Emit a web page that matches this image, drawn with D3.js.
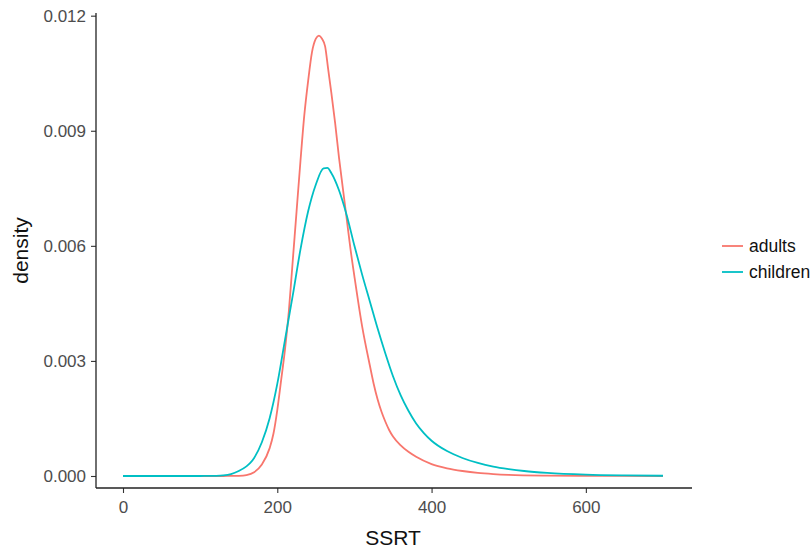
<!DOCTYPE html>
<html>
<head>
<meta charset="utf-8">
<script src="https://cdn.jsdelivr.net/npm/d3@7"></script>
<style>
  body { margin: 0; background: #fff; }
  text { font-family: "Liberation Sans", Arial, sans-serif; }
</style>
</head>
<body>
<div id="chart"></div>
<script>
// chart size and panel position
const WIDTH = 812;
const HEIGHT = 551;
const PANEL = { left: 96, right: 690, top: 13, bottom: 488 };

// SSRT grid and densities
const adultsX = [0, 100, 130, 140, 150, 160, 170, 180, 190, 195, 200, 205, 210, 215, 220, 225, 230, 235, 240, 245, 250, 254, 258, 262, 266, 270, 275, 280, 285, 290, 295, 300, 310, 320, 325, 330, 335, 340, 345, 350, 360, 370, 380, 400, 420, 440, 460, 480, 500, 550, 600, 700];
const adultsY = [0, 0, 0.0000003, 0.000001, 0.000005, 0.000025, 0.0001, 0.0003, 0.00072, 0.0011, 0.00172, 0.0025, 0.0033, 0.0043, 0.0056, 0.0069, 0.0082, 0.0094, 0.0103, 0.01105, 0.0114, 0.01148, 0.0114, 0.0112, 0.0106, 0.0100, 0.0092, 0.0083, 0.0075, 0.0067, 0.0059, 0.0052, 0.0039, 0.00288, 0.0024, 0.002, 0.00168, 0.00142, 0.0012, 0.00103, 0.0008, 0.00063, 0.0005, 0.00031, 0.0002, 0.00013, 0.00008, 0.00005, 0.00003, 0.00001, 0.000004, 0];

const childrenX = [0, 100, 110, 120, 130, 140, 150, 160, 165, 170, 180, 190, 200, 210, 220, 230, 240, 250, 260, 265, 270, 280, 290, 300, 310, 320, 330, 340, 350, 360, 370, 380, 390, 400, 420, 440, 460, 480, 500, 520, 550, 600, 650, 700];
const childrenY = [0, 0.0000003, 0.000001, 0.000004, 0.000015, 0.00005, 0.00013, 0.00025, 0.00034, 0.00047, 0.00088, 0.0015, 0.0024, 0.00355, 0.0047, 0.0059, 0.0069, 0.0076, 0.00802, 0.00803, 0.0079, 0.00745, 0.0068, 0.0060, 0.00525, 0.00455, 0.00385, 0.0032, 0.0026, 0.0021, 0.0017, 0.00137, 0.00112, 0.00092, 0.00065, 0.00047, 0.00034, 0.000245, 0.00018, 0.00013, 0.00008, 0.000035, 0.000015, 0.000006];

const groups = ['adults', 'children'];
const colors = ['#F8766D', '#00BFC4'];

const xTicks = [0, 200, 400, 600];
const yTicks = [0, 0.003, 0.006, 0.009, 0.012];

const series = [
  adultsX.map((x, i) => ({ x: x, y: adultsY[i] })),
  childrenX.map((x, i) => ({ x: x, y: childrenY[i] }))
];

const svg = d3.select('#chart')
  .append('svg')
  .attr('width', WIDTH)
  .attr('height', HEIGHT);

const xScale = d3.scaleLinear()
  .domain([-35, 735])
  .range([PANEL.left, PANEL.right]);

const yScale = d3.scaleLinear()
  .domain([-0.000313, 0.01207])
  .range([PANEL.bottom, PANEL.top]);

const line = d3.line()
  .x(d => xScale(d.x))
  .y(d => yScale(d.y))
  .curve(d3.curveMonotoneX);

svg.selectAll('.density')
  .data(series)
  .join('path')
  .attr('class', 'density')
  .attr('d', line)
  .attr('fill', 'none')
  .attr('stroke', (d, i) => colors[i])
  .attr('stroke-width', 1.8);

// axes
const xAxis = d3.axisBottom(xScale)
  .tickValues(xTicks)
  .tickSize(5)
  .tickPadding(8)
  .tickFormat(d3.format('d'));

const yAxis = d3.axisLeft(yScale)
  .tickValues(yTicks)
  .tickSize(5)
  .tickPadding(5)
  .tickFormat(d3.format('.3f'));

const gx = svg.append('g')
  .attr('transform', `translate(0, ${PANEL.bottom})`)
  .call(xAxis);

const gy = svg.append('g')
  .attr('transform', `translate(${PANEL.left}, 0)`)
  .call(yAxis);

[gx, gy].forEach(g => {
  g.select('.domain').remove();
  g.selectAll('.tick line').attr('stroke', '#333').attr('stroke-width', 1.1);
  g.selectAll('.tick text')
    .attr('fill', '#4d4d4d')
    .style('font-size', '17px');
});

svg.append('line')
  .attr('x1', PANEL.left).attr('x2', PANEL.right + 2)
  .attr('y1', PANEL.bottom).attr('y2', PANEL.bottom)
  .attr('stroke', '#222').attr('stroke-width', 1.3);

svg.append('line')
  .attr('x1', PANEL.left).attr('x2', PANEL.left)
  .attr('y1', PANEL.top).attr('y2', PANEL.bottom)
  .attr('stroke', '#222').attr('stroke-width', 1.3);

// axis titles
svg.append('text')
  .attr('x', (PANEL.left + PANEL.right) / 2)
  .attr('y', 545)
  .attr('text-anchor', 'middle')
  .style('font-size', '21px')
  .attr('fill', '#111')
  .text('SSRT');

svg.append('text')
  .attr('transform', `translate(28, ${(PANEL.top + PANEL.bottom) / 2}) rotate(-90)`)
  .attr('text-anchor', 'middle')
  .style('font-size', '21px')
  .attr('fill', '#111')
  .text('density');

// legend
const legend = svg.append('g')
  .attr('transform', 'translate(722, 246)');

groups.forEach((name, i) => {
  legend.append('line')
    .attr('x1', 0).attr('x2', 21)
    .attr('y1', i * 26).attr('y2', i * 26)
    .attr('stroke', colors[i])
    .attr('stroke-width', 1.8);
  legend.append('text')
    .attr('x', 27)
    .attr('y', i * 26 + 6)
    .style('font-size', '17.5px')
    .attr('fill', '#111')
    .text(name);
});
</script>
</body>
</html>
